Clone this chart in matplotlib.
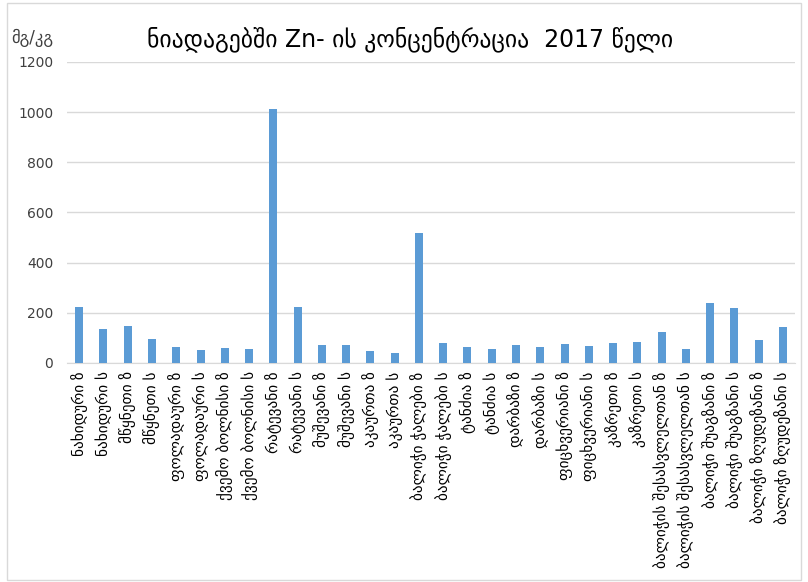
import matplotlib
matplotlib.use("Agg")
import matplotlib.pyplot as plt
from matplotlib.patches import Rectangle

plt.rcParams['font.family'] = ['DejaVu Sans']

# sampling points (ზ - upstream, ს - downstream)
sites = [
    "ნახიდური ზ", "ნახიდური ს",
    "მწყნეთი ზ", "მწყნეთი ს",
    "ფოლადაური ზ", "ფოლადაური ს",
    "ქვემო ბოლნისი ზ", "ქვემო ბოლნისი ს",
    "რატევანი ზ", "რატევანი ს",
    "მუშევანი ზ", "მუშევანი ს",
    "აკაურთა ზ", "აკაურთა ს",
    "ბალიჭი ჭალები ზ", "ბალიჭი ჭალები ს",
    "ტანძია ზ", "ტანძია ს",
    "დარბაზი ზ", "დარბაზი ს",
    "ფიცხვერიანი ზ", "ფიცხვერიანი ს",
    "კაზრეთი ზ", "კაზრეთი ს",
    "ბალიჭის შესასვლელთან ზ", "ბალიჭის შესასვლელთან ს",
    "ბალიჭი შუაგზანი ზ", "ბალიჭი შუაგზანი ს",
    "ბალიჭი ზღუდეზანი ზ", "ბალიჭი ზღუდეზანი ს",
]

# Zn, mg/kg
zn = [224, 135, 146, 96, 64, 50, 61, 55, 1013, 224,
      72, 72, 47, 39, 519, 78, 62, 55, 72, 65,
      75, 68, 78, 85, 125, 55, 238, 220, 92, 145]

yticks = [0, 200, 400, 600, 800, 1000, 1200]

fig = plt.figure(figsize=(8.08, 5.82), dpi=100)
ax = fig.add_axes([0.083, 0.3763, 0.901, 0.5172])

x = range(len(sites))
ax.bar(x, zn, width=0.33, color="#5B9BD5", zorder=3)

ax.set_xlim(-0.5, len(sites) - 0.5)
ax.set_ylim(0, 1200)
ax.set_yticks(yticks)
ax.set_yticklabels([str(v) for v in yticks], fontsize=10, color="#404040")
ax.set_xticks(list(x))
ax.set_xticklabels(sites, rotation=90, fontsize=11, color="#000000")
ax.tick_params(axis="y", length=0, pad=10)
ax.tick_params(axis="x", length=0, pad=6)

ax.grid(axis="y", color="#D9D9D9", linewidth=1, zorder=0)
for s in ["top", "right", "left"]:
    ax.spines[s].set_visible(False)
ax.spines["bottom"].set_color("#D9D9D9")
ax.spines["bottom"].set_zorder(1)

fig.text(0.508, 0.932, "ნიადაგებში Zn- ის კონცენტრაცია  2017 წელი",
         ha="center", va="center", fontsize=17, color="#000000")
fig.text(0.014, 0.935, "მგ/კგ", ha="left", va="center", fontsize=12, color="#404040")

# chart area border
fig.patches.append(Rectangle((0.009, 0.004), 0.982, 0.99, transform=fig.transFigure,
                             fill=False, edgecolor="#D9D9D9", linewidth=1))

fig.savefig("out.png", dpi=100)
